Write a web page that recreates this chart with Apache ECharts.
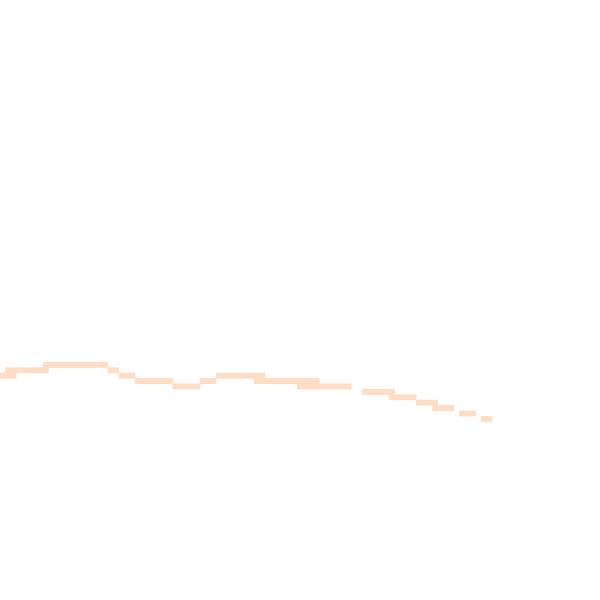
<!DOCTYPE html>
<html>
<head>
<meta charset="utf-8">
<script src="https://cdn.jsdelivr.net/npm/echarts@6/dist/echarts.min.js"></script>
<style>html,body{margin:0;padding:0;background:#fff}#c{width:600px;height:600px}</style>
</head>
<body>
<div id="c"></div>
<script>
// Grid of 111 x 111 cells; each run is a horizontal band of filled cells
var columnCount = 111;
var rowCount = 111;
var runStart = [0, 1, 8, 20, 22, 25, 32, 37, 40, 47, 55, 67, 72, 77, 80, 85, 89];
var runEnd   = [2, 8, 19, 21, 24, 31, 36, 39, 48, 58, 64, 72, 76, 80, 83, 87, 90];
var runRow   = [69, 68, 67, 68, 69, 70, 71, 70, 69, 70, 71, 72, 73, 74, 75, 76, 77];

var xCats = [], yCats = [];
for (var i = 0; i < columnCount; i++) xCats.push(String(i));
for (var j = 0; j < rowCount; j++) yCats.push(String(j));

var cells = [];
for (var k = 0; k < runStart.length; k++) {
  for (var c = runStart[k]; c <= runEnd[k]; c++) {
    cells.push([c, runRow[k], 1]);
  }
}

var chart = echarts.init(document.getElementById('c'));
chart.setOption({
  animation: false,
  backgroundColor: '#ffffff',
  grid: { left: 0, right: 0, top: 0, bottom: 0, containLabel: false },
  xAxis: { type: 'category', data: xCats, show: false },
  yAxis: { type: 'category', data: yCats, inverse: true, show: false },
  visualMap: { show: false, min: 0, max: 1, inRange: { color: ['#ffdcc4', '#ffdcc4'] } },
  series: [{
    type: 'heatmap',
    data: cells,
    itemStyle: { borderWidth: 0 },
    emphasis: { disabled: true }
  }]
});
</script>
</body>
</html>
